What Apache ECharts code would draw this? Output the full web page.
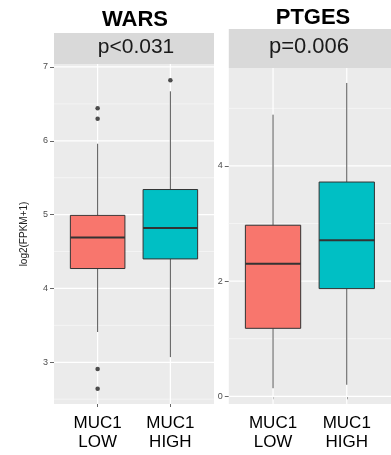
<!DOCTYPE html>
<html><head><meta charset="utf-8">
<script src="https://cdn.jsdelivr.net/npm/echarts@6/dist/echarts.min.js"></script>
<style>html,body{margin:0;padding:0;background:#fff}#c{width:391px;height:455px}</style>
</head><body><div id="c"></div>
<script>
// ---- data ----
const categories = ['MUC1\nLOW', 'MUC1\nHIGH'];
const panelTitles = ['WARS', 'PTGES'];
const pValues = ['p<0.031', 'p=0.006'];
// [min whisker, Q1, median, Q3, max whisker] per category
const warsStats = [[3.41, 4.27, 4.69, 4.99, 5.96], [3.07, 4.40, 4.82, 5.34, 6.67]];
const warsOutliers = [[1, 6.44], [1, 6.30], [1, 2.91], [1, 2.64], [2, 6.82]];
const ptgesStats = [[0.14, 1.18, 2.30, 2.97, 4.89], [0.20, 1.87, 2.71, 3.72, 5.44]];
const ptgesOutliers = [];
const warsTicks = [3, 4, 5, 6, 7];
const warsMinor = [2.5, 3.5, 4.5, 5.5, 6.5];
const ptgesTicks = [0, 2, 4];
const ptgesMinor = [1, 3, 5];
const xPositions = [1, 2];
const yTitle = 'log2(FPKM+1)';

// ---- styling ----
const fillColors = ['#F8766D', '#00BFC4'];
const FONT = 'Liberation Sans, Arial, Helvetica, sans-serif';

function boxData(stats) { return stats.map((s, i) => [xPositions[i]].concat(s)); }

function renderBox(params, api) {
  const x = api.value(0);
  const w = api.size([0.75, 0])[0];
  const pMin = api.coord([x, api.value(1)]);
  const pQ1 = api.coord([x, api.value(2)]);
  const pMed = api.coord([x, api.value(3)]);
  const pQ3 = api.coord([x, api.value(4)]);
  const pMax = api.coord([x, api.value(5)]);
  const cx = pMed[0];
  const stroke = '#333333';
  return {
    type: 'group',
    children: [
      { type: 'line', shape: { x1: cx, y1: pQ1[1], x2: cx, y2: pMin[1] }, style: { stroke: '#555', lineWidth: 1 } },
      { type: 'line', shape: { x1: cx, y1: pQ3[1], x2: cx, y2: pMax[1] }, style: { stroke: '#555', lineWidth: 1 } },
      { type: 'rect', shape: { x: cx - w / 2, y: pQ3[1], width: w, height: pQ1[1] - pQ3[1] },
        style: { fill: fillColors[params.dataIndex], stroke: stroke, lineWidth: 1 } },
      { type: 'line', shape: { x1: cx - w / 2, y1: pMed[1], x2: cx + w / 2, y2: pMed[1] }, style: { stroke: '#333', lineWidth: 2 } }
    ]
  };
}

function renderHLine(params, api) {
  const cs = params.coordSys;
  const y = api.coord([1, api.value(0)])[1];
  const major = api.value(1) === 1;
  return { type: 'line', shape: { x1: cs.x, y1: y, x2: cs.x + cs.width, y2: y },
    style: { stroke: major ? '#ffffff' : '#f6f6f6', lineWidth: major ? 1.2 : 0.8 } };
}
function renderVLine(params, api) {
  const cs = params.coordSys;
  const x = api.coord([api.value(0), 0])[0];
  return { type: 'line', shape: { x1: x, y1: cs.y, x2: x, y2: cs.y + cs.height },
    style: { stroke: '#ffffff', lineWidth: 1.2 } };
}

function gridSeries(idx, majors, minors) {
  const hd = majors.map(v => [v, 1]).concat(minors.map(v => [v, 0]));
  return [
    { type: 'custom', xAxisIndex: idx, yAxisIndex: idx, silent: true, z: 1, renderItem: renderHLine,
      data: hd, encode: { y: 0 }, clip: true },
    { type: 'custom', xAxisIndex: idx, yAxisIndex: idx, silent: true, z: 1, renderItem: renderVLine,
      data: xPositions.map(v => [v]), encode: { x: 0 }, clip: true }
  ];
}

function xAxisDef(idx) {
  return {
    type: 'value', gridIndex: idx, min: 0.4, max: 2.6,
    axisLine: { show: false },
    splitLine: { show: false },
    axisTick: { show: true, length: 3, customValues: xPositions, lineStyle: { color: '#666' } },
    axisLabel: { customValues: xPositions, formatter: v => categories[Math.round(v) - 1],
      fontSize: 17, lineHeight: 19, color: '#000', fontFamily: FONT, margin: 10 }
  };
}
function yAxisDef(idx, min, max, ticks, extra) {
  return Object.assign({
    type: 'value', gridIndex: idx, min: min, max: max,
    axisLine: { show: false },
    splitLine: { show: false },
    axisTick: { show: true, length: 4, customValues: ticks, lineStyle: { color: '#666' } },
    axisLabel: { customValues: ticks, fontSize: 9, color: '#4d4d4d', fontFamily: FONT, margin: 6 }
  }, extra || {});
}

const chart = echarts.init(document.getElementById('c'));
chart.setOption({
  animation: false,
  backgroundColor: '#ffffff',
  grid: [
    { left: 54, top: 64, width: 160, height: 340, show: true, backgroundColor: '#ebebeb', borderWidth: 0 },
    { left: 228.8, top: 68, width: 162.2, height: 336, show: true, backgroundColor: '#ebebeb', borderWidth: 0 }
  ],
  xAxis: [xAxisDef(0), xAxisDef(1)],
  yAxis: [
    yAxisDef(0, 2.435, 7.04, warsTicks, {
      name: yTitle, nameLocation: 'middle', nameGap: 25, nameRotate: 90,
      nameTextStyle: { fontSize: 10, color: '#222', fontFamily: FONT }
    }),
    yAxisDef(1, -0.134, 5.70, ptgesTicks)
  ],
  graphic: [
    { type: 'rect', left: 54, top: 33, shape: { width: 160, height: 31 }, style: { fill: '#d9d9d9' }, z: -1 },
    { type: 'rect', left: 228.8, top: 29, shape: { width: 162.2, height: 39 }, style: { fill: '#d9d9d9' }, z: -1 },
    { type: 'text', x: 135, y: 20, style: { text: panelTitles[0], font: 'bold 22px ' + FONT, fill: '#000', align: 'center', verticalAlign: 'middle' } },
    { type: 'text', x: 313, y: 18, style: { text: panelTitles[1], font: 'bold 22px ' + FONT, fill: '#000', align: 'center', verticalAlign: 'middle' } },
    { type: 'text', x: 136, y: 47, style: { text: pValues[0], font: '21px ' + FONT, fill: '#1a1a1a', align: 'center', verticalAlign: 'middle' } },
    { type: 'text', x: 309, y: 47, style: { text: pValues[1], font: '22px ' + FONT, fill: '#1a1a1a', align: 'center', verticalAlign: 'middle' } }
  ],
  series: [].concat(
    gridSeries(0, warsTicks, warsMinor),
    gridSeries(1, ptgesTicks, ptgesMinor),
    [
      { type: 'custom', xAxisIndex: 0, yAxisIndex: 0, z: 3, renderItem: renderBox,
        data: boxData(warsStats), encode: { x: 0, y: [1, 2, 3, 4, 5] } },
      { type: 'custom', xAxisIndex: 1, yAxisIndex: 1, z: 3, renderItem: renderBox,
        data: boxData(ptgesStats), encode: { x: 0, y: [1, 2, 3, 4, 5] } },
      { type: 'scatter', xAxisIndex: 0, yAxisIndex: 0, z: 4, symbolSize: 4.5,
        itemStyle: { color: '#222' }, data: warsOutliers },
      { type: 'scatter', xAxisIndex: 1, yAxisIndex: 1, z: 4, symbolSize: 4.5,
        itemStyle: { color: '#222' }, data: ptgesOutliers }
    ]
  )
});
</script>
</body></html>
